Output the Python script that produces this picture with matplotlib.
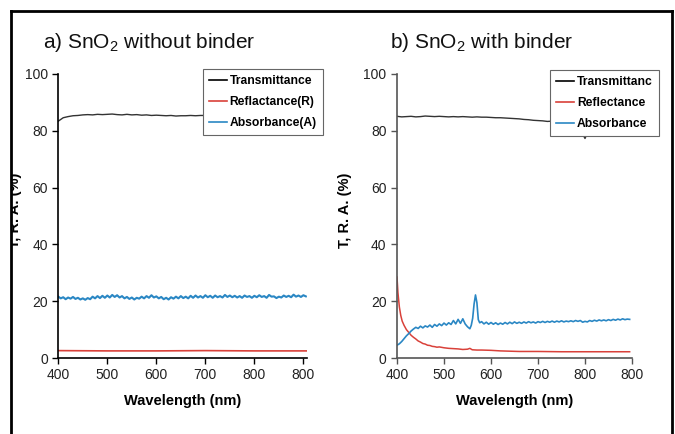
import numpy as np
import matplotlib
matplotlib.use("Agg")
import matplotlib.pyplot as plt
from matplotlib import font_manager
from matplotlib.lines import Line2D
from matplotlib.patches import Rectangle

# ---------------- data ----------------
# Panel a) SnO2 without binder
nm_a_T = np.arange(400, 901, 10)
T_a = [83.4, 84.6, 85.0, 85.3, 85.4, 85.6, 85.7, 85.6, 85.8, 85.7,
       85.8, 85.9, 85.7, 85.6, 85.8, 85.6, 85.7, 85.5, 85.6, 85.4,
       85.5, 85.4, 85.3, 85.4, 85.2, 85.3, 85.3, 85.4, 85.3, 85.4,
       85.4, 85.5, 85.4, 85.5, 85.4, 85.5, 85.4, 85.5, 85.5, 85.4,
       85.5, 85.6, 85.5, 85.4, 85.5, 85.6, 85.5, 85.6, 85.5, 85.6, 85.5]

nm_a = np.arange(400, 906, 5)
A_a = [21.6, 21.0, 21.4, 20.7, 21.3, 20.9, 21.5, 20.8, 21.2, 20.6,
       21.0, 20.5, 21.1, 20.7, 21.6, 21.0, 21.8, 21.1, 21.9, 21.2,
       22.0, 21.3, 22.2, 21.5, 22.1, 21.3, 21.8, 21.0, 21.5, 20.8,
       21.3, 20.6, 21.2, 20.9, 21.6, 21.0, 21.8, 21.2, 22.1, 21.3,
       21.7, 21.0, 21.5, 20.7, 21.2, 20.6, 21.4, 20.9, 21.6, 21.0,
       21.8, 21.1, 21.6, 21.0, 21.9, 21.2, 22.0, 21.3, 21.8, 21.2,
       22.1, 21.4, 21.9, 21.2, 22.0, 21.4, 21.8, 21.3, 22.2, 21.5,
       22.0, 21.4, 21.9, 21.3, 21.8, 21.2, 22.0, 21.5, 21.8, 21.2,
       21.9, 21.4, 22.1, 21.5, 21.8, 21.2, 22.2, 21.6, 21.7, 21.1,
       21.6, 21.3, 22.0, 21.5, 21.9, 21.4, 22.3, 21.6, 22.0, 21.5,
       22.1, 21.7]

nm_a_R = [400, 500, 600, 700, 800, 908]
R_a = [2.6, 2.5, 2.5, 2.6, 2.5, 2.5]

# Panel b) SnO2 with binder
nm_b_T = np.arange(400, 896, 10)
T_b = [85.1, 84.9, 85.0, 85.1, 84.9, 85.0, 85.2, 85.1, 85.0, 85.1,
       85.0, 84.9, 85.0, 84.9, 85.0, 84.9, 84.8, 84.9, 84.8, 84.8,
       84.7, 84.6, 84.6, 84.5, 84.4, 84.3, 84.2, 84.0, 83.9, 83.7,
       83.6, 83.5, 83.3, 83.4, 83.2, 83.1, 83.0, 82.8, 82.6, 80.5,
       77.3, 81.0, 82.3, 82.5, 82.4, 82.6, 82.5, 82.7, 82.6, 82.8]

nm_b_R = [400, 402, 405, 408, 411, 415, 420, 425, 430, 435,
          440, 445, 450, 455, 460, 465, 470, 475, 480, 485,
          490, 500, 510, 520, 530, 540, 550, 555, 560, 570,
          580, 600, 620, 640, 660, 680, 700, 750, 800, 850, 895]
R_b = [28.5, 23.0, 18.0, 15.0, 13.0, 11.5, 10.0, 9.0, 8.0, 7.3,
       6.7, 6.0, 5.6, 5.1, 4.9, 4.5, 4.4, 4.1, 4.0, 3.8,
       3.9, 3.6, 3.4, 3.3, 3.2, 3.0, 3.1, 3.4, 2.9, 2.8,
       2.8, 2.7, 2.5, 2.4, 2.3, 2.3, 2.3, 2.2, 2.2, 2.2, 2.2]

nm_b_A = [400, 405, 410, 415, 420, 425, 430, 435, 440, 445,
          450, 455, 460, 465, 470, 475, 480, 485, 490, 495,
          500, 505, 510, 515, 520, 525, 530, 535, 540, 545,
          550, 555, 558, 561, 564, 567, 570, 573, 576, 580,
          585, 590, 595, 600, 605, 610, 615, 620, 625, 630,
          635, 640, 645, 650, 655, 660, 665, 670, 675, 680,
          685, 690, 695, 700, 705, 710, 715, 720, 725, 730,
          735, 740, 745, 750, 755, 760, 765, 770, 775, 780,
          785, 790, 795, 800, 805, 810, 815, 820, 825, 830,
          835, 840, 845, 850, 855, 860, 865, 870, 875, 880,
          885, 890, 895]
A_b = [4.5, 5.0, 5.8, 6.8, 7.8, 8.6, 9.5, 10.2, 10.8, 10.4,
       11.2, 10.6, 11.3, 10.9, 11.6, 10.8, 11.8, 11.2, 12.0, 11.4,
       12.3, 11.6, 12.4, 11.8, 13.2, 12.0, 13.6, 12.2, 13.8, 12.0,
       11.0, 10.3, 11.5, 14.0, 19.0, 22.2, 19.5, 13.5, 12.4, 12.8,
       12.0, 12.6, 11.9, 12.5, 11.9, 12.4, 11.8, 12.3, 11.9, 12.5,
       12.0, 12.6, 12.1, 12.7, 12.2, 12.6, 12.2, 12.7, 12.3, 12.8,
       12.4, 12.7, 12.3, 12.8, 12.5, 12.9, 12.5, 12.9, 12.6, 13.0,
       12.6, 13.0, 12.7, 13.1, 12.7, 13.0, 12.8, 13.1, 12.8, 13.2,
       12.9, 13.2, 12.6, 12.9, 12.7, 13.2, 12.9, 13.3, 13.0, 13.4,
       13.1, 13.4, 13.1, 13.5, 13.2, 13.6, 13.3, 13.7, 13.4, 13.8,
       13.5, 13.7, 13.6]

x_ticks = [400, 500, 600, 700, 800, 900]
x_tick_labels = ["400", "500", "600", "700", "800", "800"]
y_ticks = [0, 20, 40, 60, 80, 100]

legend_a = ["Transmittance", "Reflactance(R)", "Absorbance(A)"]
legend_b = ["Transmittanc", "Reflectance", "Absorbance"]

# ---------------- style ----------------
names = {f.name for f in font_manager.fontManager.ttflist}
plt.rcParams["font.family"] = ["Liberation Sans", "DejaVu Sans"]
plt.rcParams["mathtext.fontset"] = "custom"
plt.rcParams["mathtext.rm"] = "Liberation Sans"
plt.rcParams["mathtext.default"] = "regular"
if "Liberation Sans Narrow" in names:
    leg_font = {"family": "Liberation Sans Narrow", "weight": "bold", "size": 10}
else:
    leg_font = {"family": "Liberation Sans", "weight": "bold", "size": 8.7}

C_T = "#333333"
C_R = "#d9413a"
C_A = "#2a87c4"

W, H = 675, 434
fig = plt.figure(figsize=(W / 100, H / 100), dpi=100)

def px_axes(x0, x1, ytop, ybot):
    return [x0 / W, 1 - ybot / H, (x1 - x0) / W, (ybot - ytop) / H]

ax1 = fig.add_axes(px_axes(58.3, 307.3, 74, 358))
ax2 = fig.add_axes(px_axes(397, 632, 74, 358))

ax1.plot(nm_a_T, T_a, color=C_T, lw=1.0)
ax1.plot(nm_a_R, R_a, color=C_R, lw=1.2)
ax1.plot(nm_a, A_a, color=C_A, lw=1.5)
ax1.set_xlim(400, 908)

ax2.plot(nm_b_T, T_b, color=C_T, lw=1.0)
ax2.plot(nm_b_R, R_b, color=C_R, lw=1.1)
ax2.plot(nm_b_A, A_b, color=C_A, lw=1.2)
ax2.set_xlim(400, 900)

for ax, sc in ((ax1, "black"), (ax2, "#555555")):
    ax.set_ylim(0, 100)
    ax.spines["top"].set_visible(False)
    ax.spines["right"].set_visible(False)
    for s in ("left", "bottom"):
        ax.spines[s].set_color(sc)
        ax.spines[s].set_linewidth(1.2)
    ax.set_xticks(x_ticks)
    ax.set_xticklabels(x_tick_labels)
    ax.set_yticks(y_ticks)
    ax.tick_params(direction="out", length=4, width=1, colors=sc,
                   labelcolor="#222222", labelsize=10)
    ax.set_xlabel("Wavelength (nm)", fontsize=10.5, fontweight="bold",
                  labelpad=8)

ax2.set_ylabel("T, R. A. (%)", fontsize=10.5, fontweight="bold")
ax2.yaxis.set_label_coords(-0.19, 0.52)

handles = [Line2D([], [], color="black", lw=1.2),
           Line2D([], [], color=C_R, lw=1.2),
           Line2D([], [], color=C_A, lw=1.2)]

for ax, labels, anchor in ((ax1, legend_a, (0.581, 1.018)),
                           (ax2, legend_b, (0.652, 1.014))):
    leg = ax.legend(handles, labels, loc="upper left", bbox_to_anchor=anchor,
                    prop=leg_font, frameon=True, fancybox=False,
                    framealpha=1, edgecolor="#666666", borderpad=0.5,
                    handlelength=1.5, handletextpad=0.2, labelspacing=0.75,
                    borderaxespad=0)
    leg.get_frame().set_linewidth(0.8)

fig.text(43 / W, 1 - 43 / H, r"a) SnO$_2$ without binder", fontsize=15,
         ha="left", va="center", color="#111111")
fig.text(390 / W, 1 - 43 / H, r"b) SnO$_2$ with binder", fontsize=15,
         ha="left", va="center", color="#111111")

# left panel y label, partially hidden behind the outer frame
fig.text(15 / W, 1 - 210 / H, "T, R. A. (%)", rotation=90, fontsize=10.5,
         fontweight="bold", ha="center", va="center", zorder=2)
fig.add_artist(Rectangle((0, 0), 11 / W, 1, transform=fig.transFigure,
                         facecolor="white", edgecolor="none", zorder=10))

# outer frame (open at the bottom)
fx0, fx1, fy = 11 / W, 672 / W, 1 - 11 / H
fig.add_artist(Line2D([fx0, fx0], [0, fy], transform=fig.transFigure,
                      color="black", lw=2, zorder=11))
fig.add_artist(Line2D([fx0, fx1], [fy, fy], transform=fig.transFigure,
                      color="black", lw=2, zorder=11))
fig.add_artist(Line2D([fx1, fx1], [fy, 0], transform=fig.transFigure,
                      color="black", lw=2, zorder=11))

fig.savefig("out.png", dpi=100)
